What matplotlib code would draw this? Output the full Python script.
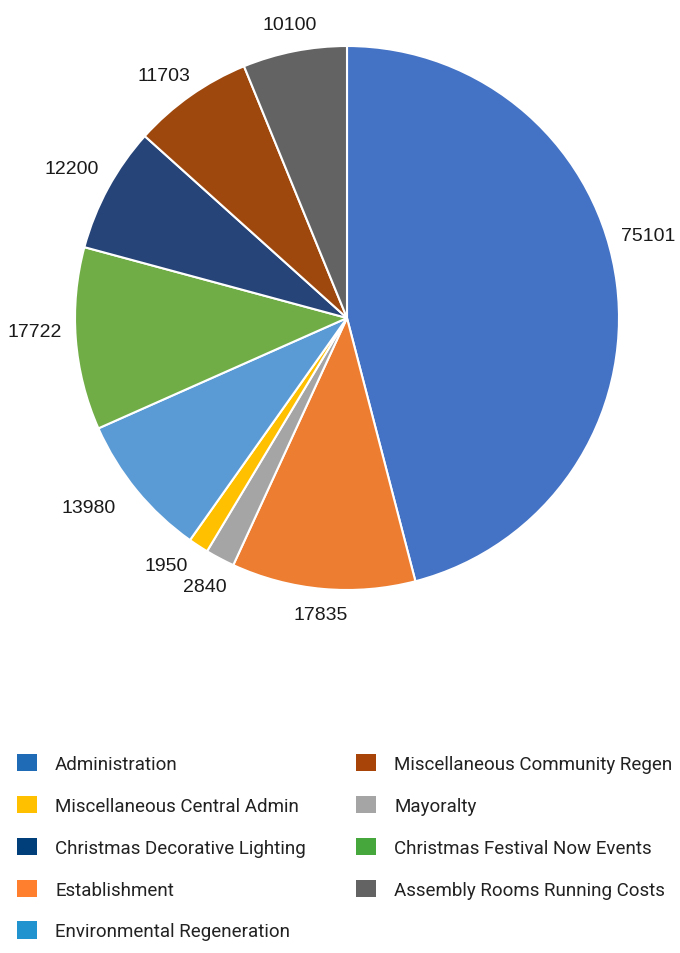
import matplotlib
matplotlib.use("Agg")
import numpy as np
import matplotlib.pyplot as plt
from matplotlib.patches import Patch

# Pie slices (clockwise from top)
categories = ["Administration", "Establishment", "Mayoralty", "Miscellaneous Central Admin",
              "Environmental Regeneration", "Christmas Festival Now Events",
              "Christmas Decorative Lighting", "Miscellaneous Community Regen",
              "Assembly Rooms Running Costs"]
values = [75101, 17835, 2840, 1950, 13980, 17722, 12200, 11703, 10100]
pie_colors = ["#4472C4", "#ED7D31", "#A5A5A5", "#FFC000", "#5B9BD5", "#70AD47",
              "#264478", "#9E480E", "#636363"]

# Legend (as shown, two columns)
legend_left = ["Administration", "Miscellaneous Central Admin", "Christmas Decorative Lighting",
               "Establishment", "Environmental Regeneration"]
legend_left_colors = ["#1F6BB5", "#FFC000", "#003F7A", "#FF7F2F", "#2193CF"]
legend_right = ["Miscellaneous Community Regen", "Mayoralty", "Christmas Festival Now Events",
                "Assembly Rooms Running Costs"]
legend_right_colors = ["#A94408", "#A5A5A5", "#46A83C", "#636363"]

fig = plt.figure(figsize=(6.8, 9.54), dpi=100)
ax = fig.add_axes([75/680, (954-591)/954, 544/680, 544/954])
wedges, texts = ax.pie(values, colors=pie_colors, startangle=90, counterclock=False,
                       labels=[str(v) for v in values], labeldistance=1.1,
                       wedgeprops=dict(edgecolor="white", linewidth=1.5),
                       textprops=dict(fontsize=14, family="Liberation Sans", color="#1a1a1a"))
# label placement tweaks (layout only)
angle_offsets = {0: 8, 3: -3, 4: -3, 5: -2, 7: 2}
dist_extra = {4: 0.04, 7: -0.01, 6: 0.01}
for i, (w, t) in enumerate(zip(wedges, texts)):
    theta = np.deg2rad((w.theta1 + w.theta2) / 2 + angle_offsets.get(i, 0))
    d = 1.09 + 0.06 * abs(np.cos(theta)) + dist_extra.get(i, 0)
    t.set_position((d * np.cos(theta), d * np.sin(theta)))
    t.set_ha("center")
    t.set_va("center")
ax.set_xlim(-1, 1)
ax.set_ylim(-1, 1)
ax.set_aspect("equal")
ax.axis("off")

lkw = dict(frameon=False, prop=dict(family="Roboto", size=13.5), handlelength=1.08,
           handleheight=1.03, handletextpad=0.95, labelspacing=1.22, borderpad=0,
           borderaxespad=0, loc="upper left")
h1 = [Patch(facecolor=c, edgecolor="none") for c in legend_left_colors]
h2 = [Patch(facecolor=c, edgecolor="none") for c in legend_right_colors]
leg1 = fig.legend(h1, legend_left, bbox_to_anchor=(17/680, (954-755)/954), **lkw)
leg2 = fig.legend(h2, legend_right, bbox_to_anchor=(356/680, (954-755)/954), **lkw)
for leg in (leg1, leg2):
    for t in leg.get_texts():
        t.set_color("#222222")

fig.savefig("out.png", dpi=100)
